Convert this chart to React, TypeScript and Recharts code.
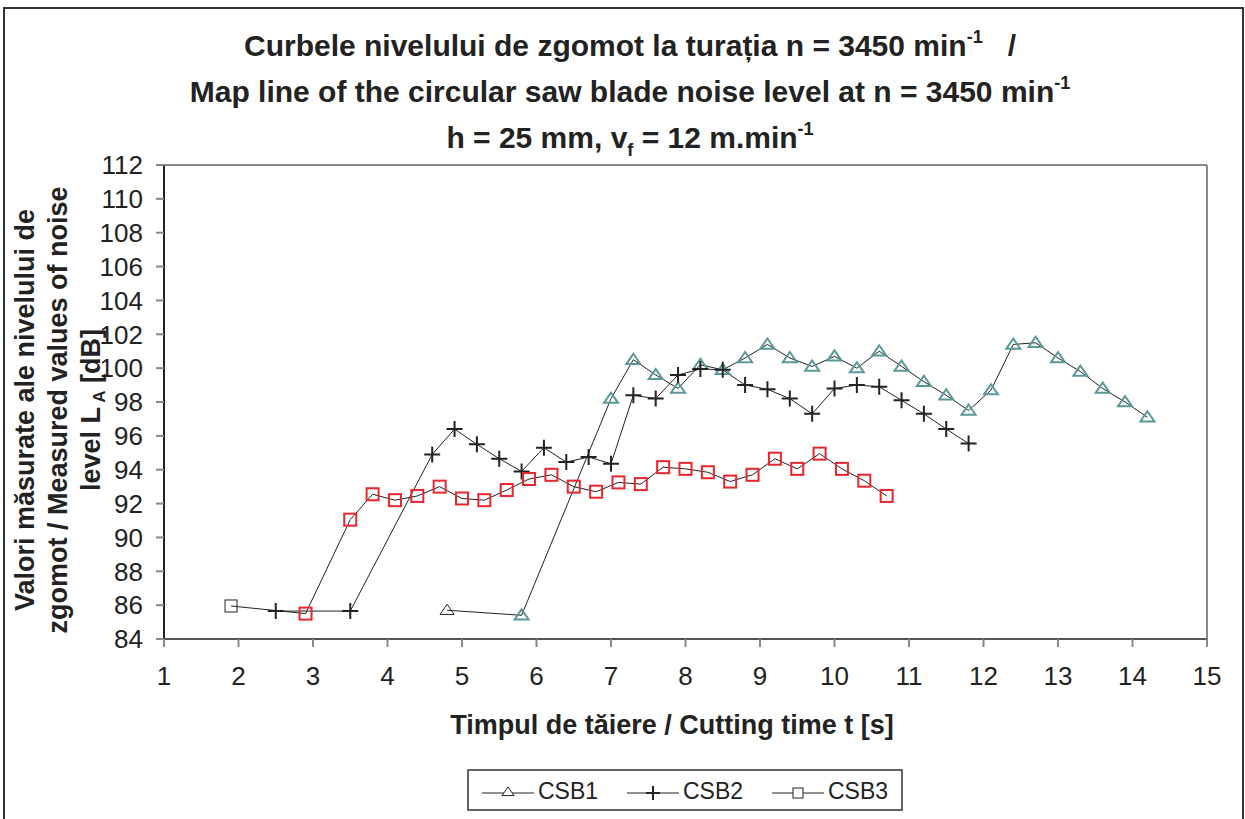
import React from 'react'
import { LineChart, Line, XAxis, YAxis, ReferenceLine } from 'recharts'

// cutting time [s] and measured noise level [dB] per blade
const csb1Time = [4.8, 5.8, 7.0, 7.3, 7.6, 7.9, 8.2, 8.5, 8.8, 9.1, 9.4, 9.7, 10.0, 10.3, 10.6, 10.9, 11.2, 11.5, 11.8, 12.1, 12.4, 12.7, 13.0, 13.3, 13.6, 13.9, 14.2]
const csb1Level = [85.7, 85.4, 98.2, 100.5, 99.6, 98.8, 100.2, 99.9, 100.6, 101.4, 100.6, 100.1, 100.7, 100.0, 101.0, 100.1, 99.2, 98.4, 97.5, 98.7, 101.4, 101.5, 100.6, 99.8, 98.8, 98.0, 97.1]

const csb2Time = [2.5, 3.5, 4.6, 4.9, 5.2, 5.5, 5.8, 6.1, 6.4, 6.7, 7.0, 7.3, 7.6, 7.9, 8.2, 8.5, 8.8, 9.1, 9.4, 9.7, 10.0, 10.3, 10.6, 10.9, 11.2, 11.5, 11.8]
const csb2Level = [85.65, 85.65, 94.9, 96.4, 95.5, 94.65, 93.9, 95.3, 94.45, 94.75, 94.35, 98.4, 98.2, 99.6, 99.95, 99.9, 99.0, 98.75, 98.2, 97.3, 98.8, 99.0, 98.9, 98.1, 97.3, 96.4, 95.55]

const csb3Time = [1.9, 2.9, 3.5, 3.8, 4.1, 4.4, 4.7, 5.0, 5.3, 5.6, 5.9, 6.2, 6.5, 6.8, 7.1, 7.4, 7.7, 8.0, 8.3, 8.6, 8.9, 9.2, 9.5, 9.8, 10.1, 10.4, 10.7]
const csb3Level = [85.95, 85.5, 91.05, 92.55, 92.2, 92.45, 93.0, 92.3, 92.2, 92.8, 93.45, 93.7, 93.0, 92.7, 93.25, 93.15, 94.15, 94.05, 93.85, 93.3, 93.7, 94.65, 94.05, 94.95, 94.05, 93.35, 92.45]

const xTicks = [1, 2, 3, 4, 5, 6, 7, 8, 9, 10, 11, 12, 13, 14, 15]
const yTicks = [84, 86, 88, 90, 92, 94, 96, 98, 100, 102, 104, 106, 108, 110, 112]

const toPoints = (xs: number[], ys: number[]) => xs.map((x, i) => ({ x, y: ys[i] }))

const TEAL = '#5b9898'
const RED = '#e8262d'
const FONT = '"Liberation Sans", Arial, sans-serif'

const triangle = (cx: number, cy: number, s: number) =>
  `M${cx},${cy - s * 0.85} L${cx + s},${cy + s * 0.6} L${cx - s},${cy + s * 0.6} Z`

const renderTriangle = (p: any) => {
  const first = p.index === 0
  return (
    <path key={`t-${p.index}`} d={triangle(p.cx, p.cy, 7)} fill="none"
      stroke={first ? '#222' : TEAL} strokeWidth={first ? 1 : 2} />
  )
}

const renderPlus = (p: any) => (
  <path key={`p-${p.index}`} d={`M${p.cx - 8},${p.cy} H${p.cx + 8} M${p.cx},${p.cy - 8} V${p.cy + 8}`}
    stroke="#222" strokeWidth={2} fill="none" />
)

const renderSquare = (p: any) => {
  const first = p.index === 0
  return (
    <rect key={`s-${p.index}`} x={p.cx - 6} y={p.cy - 6} width={12} height={12} fill="none"
      stroke={first ? '#222' : RED} strokeWidth={first ? 1 : 2} />
  )
}

const legendItems = [
  { name: 'CSB1', x: 482, kind: 'tri' },
  { name: 'CSB2', x: 627, kind: 'plus' },
  { name: 'CSB3', x: 772, kind: 'sq' },
]

export default function App() {
  return (
    <div style={{ position: 'absolute', left: 0, top: 0, width: 1245, height: 819, background: '#fff', overflow: 'hidden' }}>
      <LineChart width={1245} height={819} margin={{ top: 165, right: 38, bottom: 140, left: 100 }}>
        <XAxis dataKey="x" type="number" domain={[1, 15]} ticks={xTicks} interval={0} allowDuplicatedCategory={false}
          height={40} tickSize={8} tickMargin={20}
          axisLine={{ stroke: '#555', strokeWidth: 2 }} tickLine={{ stroke: '#888', strokeWidth: 2 }}
          tick={{ fill: '#222', fontSize: 26, fontFamily: FONT }} />
        <YAxis type="number" domain={[84, 112]} ticks={yTicks} interval={0} width={64} tickSize={8} tickMargin={13}
          axisLine={{ stroke: '#222', strokeWidth: 2 }} tickLine={{ stroke: '#888', strokeWidth: 2 }}
          tick={{ fill: '#222', fontSize: 26, fontFamily: FONT }} />
        <ReferenceLine y={112} stroke="#888" strokeWidth={2} />
        <ReferenceLine x={15} stroke="#888" strokeWidth={2} />
        <Line data={toPoints(csb1Time, csb1Level)} dataKey="y" name="CSB1" stroke="#222" strokeWidth={1}
          dot={renderTriangle} activeDot={false} isAnimationActive={false} />
        <Line data={toPoints(csb2Time, csb2Level)} dataKey="y" name="CSB2" stroke="#222" strokeWidth={1}
          dot={renderPlus} activeDot={false} isAnimationActive={false} />
        <Line data={toPoints(csb3Time, csb3Level)} dataKey="y" name="CSB3" stroke="#222" strokeWidth={1}
          dot={renderSquare} activeDot={false} isAnimationActive={false} />
      </LineChart>

      <svg width={1245} height={819} style={{ position: 'absolute', left: 0, top: 0, pointerEvents: 'none' }}
        fontFamily={FONT} fill="#222">
        <rect x={4} y={8} width={1239} height={840} fill="none" stroke="#333" strokeWidth={2} />

        <g fontWeight="bold" fontSize={30} textAnchor="middle">
          <text x={630} y={56}>
            Curbele nivelului de zgomot la turația n = 3450 min
            <tspan fontSize={18} dy={-13}>-1</tspan>
            <tspan dy={13}>{'\u00a0\u00a0\u00a0/'}</tspan>
          </text>
          <text x={630} y={102}>
            Map line of the circular saw blade noise level at n = 3450 min
            <tspan fontSize={18} dy={-13}>-1</tspan>
          </text>
          <text x={630} y={148}>
            h = 25 mm, v
            <tspan fontSize={18} dy={8}>f</tspan>
            <tspan dy={-8}> = 12 m.min</tspan>
            <tspan fontSize={18} dy={-13}>-1</tspan>
          </text>
        </g>

        <g fontWeight="bold" fontSize={27} textAnchor="middle" transform="rotate(-90)">
          <text x={-410} y={34}>Valori măsurate ale nivelului de</text>
          <text x={-410} y={67}>zgomot / Measured values of noise</text>
          <text x={-410} y={100}>
            level L
            <tspan fontSize={17} dy={5}> A</tspan>
            <tspan dy={-5}> [dB]</tspan>
          </text>
        </g>

        <text x={672} y={734} fontWeight="bold" fontSize={27} textAnchor="middle">
          Timpul de tăiere / Cutting time t [s]
        </text>

        <rect x={468} y={770} width={434} height={40} fill="none" stroke="#333" strokeWidth={1.5} />
        {legendItems.map((it) => {
          const cx = it.x + 26
          const cy = 793
          return (
            <g key={it.name}>
              <line x1={it.x} x2={it.x + 52} y1={cy} y2={cy} stroke="#222" strokeWidth={1} />
              {it.kind === 'tri' && <path d={triangle(cx, cy - 1, 6)} fill="#fff" stroke="#222" strokeWidth={1} />}
              {it.kind === 'plus' && (
                <path d={`M${cx - 7},${cy} H${cx + 7} M${cx},${cy - 7} V${cy + 7}`} stroke="#222" strokeWidth={2} />
              )}
              {it.kind === 'sq' && <rect x={cx - 5} y={cy - 5} width={10} height={10} fill="#fff" stroke="#222" strokeWidth={1} />}
              <text x={it.x + 56} y={799} fontSize={23}>{it.name}</text>
            </g>
          )
        })}
      </svg>
    </div>
  )
}
